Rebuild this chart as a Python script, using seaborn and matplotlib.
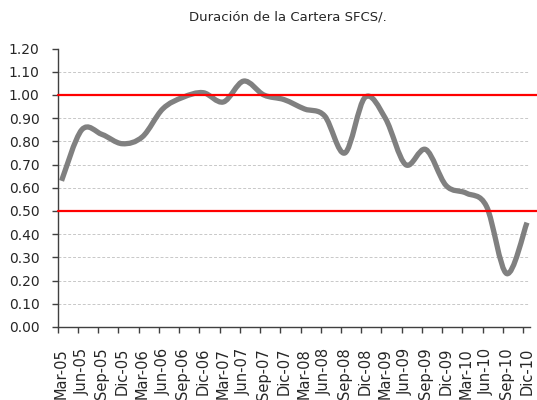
import numpy as np
import pandas as pd
import matplotlib
matplotlib.use("Agg")
import matplotlib.pyplot as plt
from matplotlib.path import Path
from matplotlib.patches import PathPatch
import seaborn as sns

# ---- data ----
periods = ["Mar-05", "Jun-05", "Sep-05", "Dic-05", "Mar-06", "Jun-06", "Sep-06", "Dic-06",
           "Mar-07", "Jun-07", "Sep-07", "Dic-07", "Mar-08", "Jun-08", "Sep-08", "Dic-08",
           "Mar-09", "Jun-09", "Sep-09", "Dic-09", "Mar-10", "Jun-10", "Sep-10", "Dic-10"]
duration = [0.63, 0.85, 0.83, 0.79, 0.82, 0.94, 0.99, 1.01,
            0.97, 1.06, 1.00, 0.98, 0.94, 0.91, 0.75, 0.99,
            0.90, 0.70, 0.765, 0.61, 0.577, 0.52, 0.23, 0.45]
limits = [1.00, 0.50]
yticks = [round(0.1 * k, 2) for k in range(13)]
title = "Duración de la Cartera SFCS/."

sns.set_style("white")
plt.rcParams['font.family'] = ['DejaVu Sans']

df = pd.DataFrame({"pos": np.arange(len(periods)), "dur": duration})

fig = plt.figure(figsize=(5.37, 4.0), dpi=100)
ax = fig.add_axes([0.1074, 0.1825, 0.8796, 0.696])

# register data with seaborn (invisible), then draw smoothed Excel-like curve
sns.lineplot(data=df, x="pos", y="dur", ax=ax, lw=0, legend=False)

xs = df["pos"].to_numpy(dtype=float)
ys = df["dur"].to_numpy(dtype=float)
pts = np.column_stack([xs, ys])
n = len(pts)
verts = [tuple(pts[0])]
codes = [Path.MOVETO]
for i in range(n - 1):
    p0 = pts[i - 1] if i > 0 else pts[i]
    p1 = pts[i]
    p2 = pts[i + 1]
    p3 = pts[i + 2] if i + 2 < n else pts[i + 1]
    c1 = p1 + (p2 - p0) / 6.0
    c2 = p2 - (p3 - p1) / 6.0
    verts += [tuple(c1), tuple(c2), tuple(p2)]
    codes += [Path.CURVE4] * 3
patch = PathPatch(Path(verts, codes), facecolor="none", edgecolor="#808080",
                  lw=3.8, capstyle="butt", joinstyle="round", zorder=3)
ax.add_patch(patch)

for lv in limits:
    ax.axhline(lv, xmin=0, xmax=1.02, color="#FF0000", lw=1.6, zorder=4, clip_on=False)

ax.set_xlim(-0.19, 23.15)
ax.set_ylim(0, 1.2)

# gridlines (dashed) for 0.1..1.1
for yv in yticks[1:-1]:
    ax.axhline(yv, color="#C8C8C8", lw=0.7, ls=(0, (3, 2)), zorder=1)

ax.set_yticks(yticks)
ax.set_yticklabels([f"{v:.2f}" for v in yticks], fontsize=10)

ax.set_xticks(xs - 0.19)
ax.set_xticklabels([])
ax.set_xticks(xs, minor=True)
ax.set_xticklabels(periods, minor=True, rotation=90, fontsize=10.5, va="top")
ax.tick_params(axis="x", which="major", direction="out", length=4, width=1, color="#404040", bottom=True)
ax.tick_params(axis="x", which="minor", length=0, pad=15, bottom=True)
ax.tick_params(axis="y", direction="out", length=4, width=1, color="#404040", pad=9, left=True)

for s in ["top", "right"]:
    ax.spines[s].set_visible(False)
for s in ["left", "bottom"]:
    ax.spines[s].set_color("#404040")
    ax.spines[s].set_linewidth(1)

ax.set_xlabel("")
ax.set_ylabel("")
fig.text(0.536, 0.958, title, ha="center", va="center", fontsize=9.5)

fig.savefig("out.png", dpi=100)
